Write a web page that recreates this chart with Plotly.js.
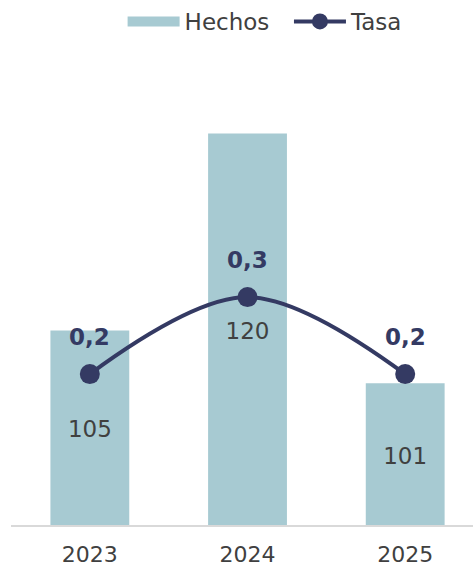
<!DOCTYPE html>
<html><head><meta charset="utf-8">
<script src="https://cdn.plot.ly/plotly-3.0.1.min.js"></script>
<style>body{margin:0;background:#fff}#c{width:473px;height:569px}</style>
</head><body><div id="c"></div>
<script>
const years = ['2023', '2024', '2025'];
const hechos = [105, 120, 101];
const tasa = [0.2, 0.3, 0.2];
const seriesNames = ['Hechos', 'Tasa'];

const FONT = 'DejaVu Sans';
const Y1 = [90.2, 125.6];
const BAR = '#A7CAD2', LINE = '#343A63', TXT = '#404040';

const traces = [
  {
    type: 'bar', name: seriesNames[0], x: years, y: hechos, showlegend: false,
    marker: {color: BAR}, width: 0.5, hoverinfo: 'skip'
  },
  {
    // value labels centred in the visible part of each bar
    type: 'scatter', mode: 'text', x: years, y: hechos.map(v => (v + Y1[0]) / 2 - 0.3),
    text: hechos.map(String), textposition: 'middle center',
    textfont: {family: FONT, size: 23, color: TXT}, showlegend: false, hoverinfo: 'skip'
  },
  {
    // legend swatch for bars (wide rectangle)
    type: 'scatter', mode: 'lines', name: seriesNames[0] + '\u00a0\u00a0', x: [null], y: [null],
    line: {color: BAR, width: 14}, hoverinfo: 'skip'
  },
  {
    type: 'scatter', mode: 'lines+markers', name: seriesNames[1], x: years, y: tasa,
    yaxis: 'y2',
    line: {color: LINE, width: 4, shape: 'spline'},
    marker: {color: LINE, size: 20},
    hoverinfo: 'skip'
  }
];
const annotations = years.map((yr, i) => ({
  x: i, y: tasa[i], xref: 'x', yref: 'y2',
  text: '<b>' + tasa[i].toFixed(1).replace('.', ',') + '</b>',
  showarrow: false, yshift: 37,
  font: {family: FONT, size: 23, color: LINE}
}));
const layout = {
  width: 473, height: 569,
  margin: {l: 11, r: 0, t: 60, b: 44},
  paper_bgcolor: '#fff', plot_bgcolor: '#fff',
  separators: ',.',
  font: {family: FONT, size: 23, color: TXT},
  showlegend: true,
  legend: {orientation: 'h', x: 0.55, xanchor: 'center', yref: 'container', y: 1, yanchor: 'top',
           font: {family: FONT, size: 23, color: TXT}, traceorder: 'normal', itemwidth: 52,
           tracegroupgap: 0},
  xaxis: {type: 'category', range: [-0.5, 2.43], showline: true, linecolor: '#d9d9d9', linewidth: 2,
          ticks: '', showgrid: false, ticklabelstandoff: 9,
          tickfont: {family: FONT, size: 22, color: TXT}},
  yaxis: {range: Y1, visible: false, showgrid: false, zeroline: false},
  yaxis2: {range: [0.004, 0.608], overlaying: 'y', side: 'right', visible: false, showgrid: false, zeroline: false},
  annotations: annotations
};
Plotly.newPlot('c', traces, layout, {displayModeBar: false, staticPlot: true});
</script>
</body></html>
